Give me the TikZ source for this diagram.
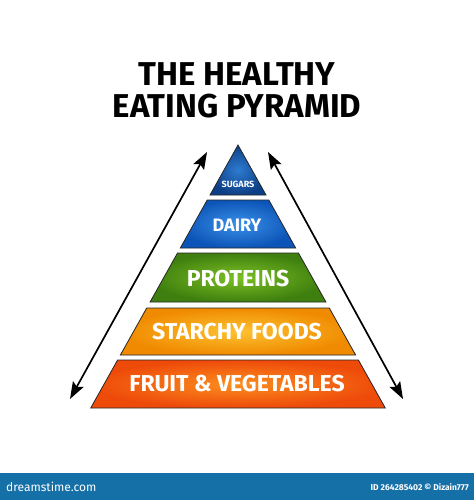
\documentclass[tikz,border=0pt]{standalone}
\usepackage{fontspec}
\setmainfont{Fira Sans}
\usetikzlibrary{arrows.meta,positioning,calc}
\definecolor{clbar}{HTML}{1670A8}
\definecolor{clsugin}{HTML}{2E7BD0}
\definecolor{clsugout}{HTML}{0D3F86}
\definecolor{cldairyin}{HTML}{3A90E8}
\definecolor{cldairyout}{HTML}{0C55B8}
\definecolor{clprotin}{HTML}{7CC024}
\definecolor{clprotout}{HTML}{3F7F0F}
\definecolor{clstarin}{HTML}{FDC232}
\definecolor{clstarout}{HTML}{F08A00}
\definecolor{clfruitin}{HTML}{FB8E1E}
\definecolor{clfruitout}{HTML}{EE4A0A}
\tikzstyle{title} = [font=\fontsize{33}{35}\selectfont\bfseries, inner sep=0pt]
\tikzstyle{layertext} = [text=white, font=\bfseries, inner sep=0pt]
\tikzstyle{line} = [draw, {Stealth[length=17pt,width=12pt,inset=3pt]}-{Stealth[length=17pt,width=12pt,inset=3pt]}, line width=1.7pt]
\tikzstyle{bartext} = [text=white, inner sep=0pt]
% one slice of the pyramid: top y, bottom y, inner colour, outer colour
\newcommand{\pyrlayer}[4]{%
  \pgfmathsetmacro{\wt}{0.56*(#1-145)}
  \pgfmathsetmacro{\wb}{0.56*(#2-145)}
  \draw[line width=0.8pt, draw=black!85, inner color=#3, outer color=#4]
    (238-\wt,#1) -- (238+\wt,#1) -- (238+\wb,#2) -- (238-\wb,#2) -- cycle;
}
\begin{document}
\begin{tikzpicture}[x=1pt, y=-1pt]
    \useasboundingbox (0,0) rectangle (474,500);

    \node [title] (title1) at (237,74) {THE HEALTHY};
    \node [title, below=8pt of title1] (title2) {EATING PYRAMID};

    \pyrlayer{145}{195}{clsugin}{clsugout}
    \pyrlayer{200}{248}{cldairyin}{cldairyout}
    \pyrlayer{253}{302}{clprotin}{clprotout}
    \pyrlayer{308}{355}{clstarin}{clstarout}
    \pyrlayer{360}{408}{clfruitin}{clfruitout}

    \node [layertext, font=\fontsize{9}{10}\selectfont\bfseries] (sugars) at (238,184) {SUGARS};
    \node [layertext, font=\fontsize{18}{20}\selectfont\bfseries] (dairy) at (237,225) {DAIRY};
    \node [layertext, font=\fontsize{23}{25}\selectfont\bfseries] (proteins) at (238,279) {PROTEINS};
    \node [layertext, font=\fontsize{23}{25}\selectfont\bfseries] (starchy) at (237,332) {STARCHY FOODS};
    \node [layertext, font=\fontsize{23}{25}\selectfont\bfseries] (fruit) at (237,384) {FRUIT \& VEGETABLES};

    \coordinate (lbot) at (70,399);
    \coordinate (ltop) at (207,152);
    \coordinate (rtop) at (268,152);
    \coordinate (rbot) at (403,399);
    \path [line] (lbot) -- (ltop);
    \path [line] (rtop) -- (rbot);

    \fill [clbar] (0,473) rectangle (474,500);
    \node [bartext, anchor=west, font=\fontsize{12}{13}\selectfont] (site) at (6,487) {dreamstime.com};
    \node [bartext, anchor=east, font=\fontsize{8.5}{9}\selectfont\bfseries] (credit) at (469,487) {ID 264285402 © Dizain777};
\end{tikzpicture}
\end{document}
